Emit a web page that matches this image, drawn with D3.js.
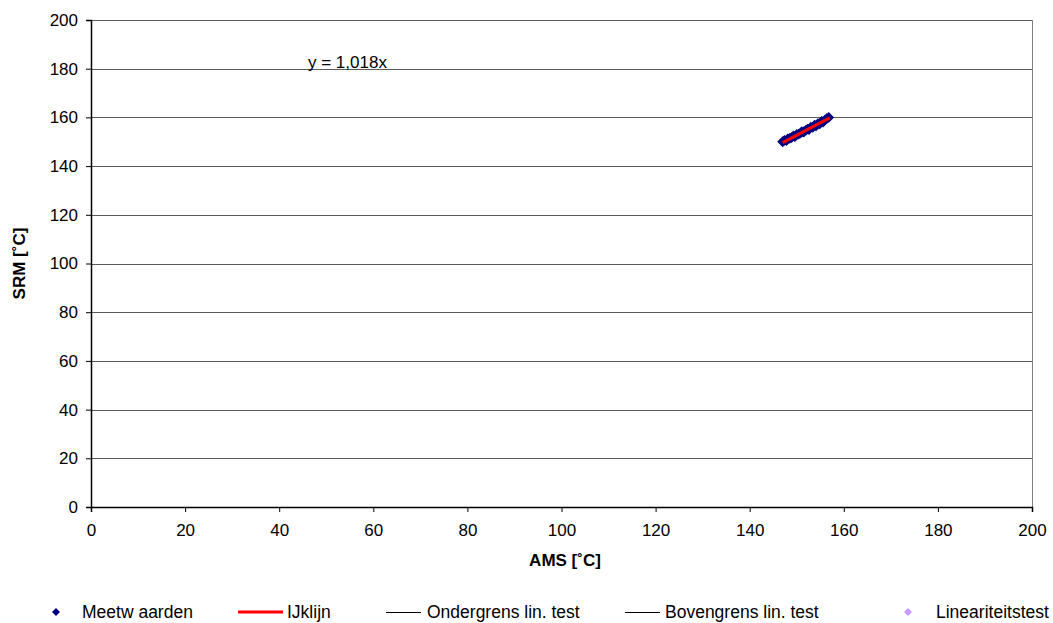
<!DOCTYPE html>
<html>
<head>
<meta charset="utf-8">
<script src="https://cdn.jsdelivr.net/npm/d3@7"></script>
<style>
  body { margin: 0; background: #fff; }
  text { font-family: "Liberation Sans", Arial, sans-serif; }
</style>
</head>
<body>
<svg id="chart"></svg>
<script>
// measured values (AMS vs SRM)
const amsValues = [147.0, 147.4, 147.8, 148.1, 148.5, 148.9, 149.3, 149.6, 150.0, 150.4, 150.8, 151.1, 151.5, 151.9, 152.3, 152.6, 153.0, 153.4, 153.8, 154.1, 154.5, 154.9, 155.3, 155.6, 156.0, 156.4, 156.8];
const srmValues = [150.0, 150.6, 150.5, 151.2, 151.4, 151.7, 152.4, 152.1, 153.0, 153.1, 153.6, 154.1, 154.0, 154.7, 155.2, 155.0, 156.0, 155.9, 156.8, 156.5, 157.4, 157.3, 158.4, 158.1, 158.9, 159.6, 160.0];
const slope = 1.018;
const calRange = [147, 157];
const xTicks = [0, 20, 40, 60, 80, 100, 120, 140, 160, 180, 200];
const yTicks = [0, 20, 40, 60, 80, 100, 120, 140, 160, 180, 200];
const legendLabels = ["Meetw aarden", "IJklijn", "Ondergrens lin. test", "Bovengrens lin. test", "Lineariteitstest"];

const W = 1053, H = 623;
const margin = {top: 20, right: 21, bottom: 116, left: 91};
const width = W - margin.left - margin.right,
      height = H - margin.top - margin.bottom;
const fs = 17;

const svg = d3.select("#chart").attr("width", W).attr("height", H);
const g = svg.append("g").attr("transform", `translate(${margin.left},${margin.top})`);

const x = d3.scaleLinear().domain([0, 200]).range([0, width]);
const y = d3.scaleLinear().domain([0, 200]).range([height, 0]);

// gridlines
g.append("g")
  .selectAll("line")
  .data(yTicks.filter(d => d > 0))
  .join("line")
    .attr("x1", 0).attr("x2", width)
    .attr("y1", d => Math.round(y(d)) + 0.5).attr("y2", d => Math.round(y(d)) + 0.5)
    .attr("stroke", "#5a5a5a").attr("stroke-width", 1);

// right border
g.append("line")
  .attr("x1", width + 0.5).attr("x2", width + 0.5)
  .attr("y1", 0).attr("y2", height)
  .attr("stroke", "#808080");

// axes
const xAxis = g.append("g")
  .attr("transform", `translate(0,${height})`)
  .call(d3.axisBottom(x).tickValues(xTicks).tickSize(5).tickPadding(12));
const yAxis = g.append("g")
  .call(d3.axisLeft(y).tickValues(yTicks).tickSize(5).tickPadding(8));

[xAxis, yAxis].forEach(a => {
  a.attr("font-size", fs).attr("font-family", "Liberation Sans, Arial, sans-serif");
  a.select(".domain").attr("stroke", "#000").attr("stroke-width", 1.5);
  a.selectAll(".tick line").attr("stroke", "#000");
  a.selectAll(".tick text").attr("fill", "#000");
});

// axis titles
svg.append("text")
  .attr("x", 565).attr("y", 566)
  .attr("text-anchor", "middle")
  .attr("font-size", fs).attr("font-weight", "bold")
  .text("AMS [˚C]");

svg.append("text")
  .attr("transform", `translate(25,${margin.top + height / 2}) rotate(-90)`)
  .attr("text-anchor", "middle")
  .attr("font-size", fs).attr("font-weight", "bold")
  .text("SRM [˚C]");

// measured points
const diamond = d3.symbol().type(d3.symbolDiamond2).size(48);
g.append("g")
  .selectAll("path")
  .data(amsValues.map((v, i) => [v, srmValues[i]]))
  .join("path")
    .attr("d", diamond)
    .attr("transform", d => `translate(${x(d[0])},${y(d[1])})`)
    .attr("fill", "#000080")
    .attr("stroke", "#000080")
    .attr("stroke-width", 1.5);

// calibration line
g.append("line")
  .attr("x1", x(calRange[0])).attr("y1", y(calRange[0] * slope))
  .attr("x2", x(calRange[1])).attr("y2", y(calRange[1] * slope))
  .attr("stroke", "#ff0000").attr("stroke-width", 3);

// equation
svg.append("text")
  .attr("x", 308).attr("y", 68)
  .attr("font-size", fs)
  .text("y = " + d3.format(".3f")(slope).replace(".", ",") + "x");

// legend
const ly = 612;
const legend = svg.append("g").attr("font-size", 17.5);
const smallDiamond = d3.symbol().type(d3.symbolDiamond2).size(40);
legend.append("path").attr("d", smallDiamond)
  .attr("transform", `translate(56,${ly})`).attr("fill", "#000080");
legend.append("text").attr("x", 82).attr("y", ly + 6).text(legendLabels[0]);

legend.append("line").attr("x1", 238).attr("x2", 283).attr("y1", ly).attr("y2", ly)
  .attr("stroke", "#ff0000").attr("stroke-width", 3);
legend.append("text").attr("x", 287).attr("y", ly + 6).text(legendLabels[1]);

legend.append("line").attr("x1", 386).attr("x2", 421).attr("y1", ly + 0.5).attr("y2", ly + 0.5)
  .attr("stroke", "#000").attr("stroke-width", 1);
legend.append("text").attr("x", 427).attr("y", ly + 6).text(legendLabels[2]);

legend.append("line").attr("x1", 625).attr("x2", 660).attr("y1", ly + 0.5).attr("y2", ly + 0.5)
  .attr("stroke", "#000").attr("stroke-width", 1);
legend.append("text").attr("x", 665).attr("y", ly + 6).text(legendLabels[3]);

legend.append("path").attr("d", smallDiamond)
  .attr("transform", `translate(908,${ly})`).attr("fill", "#cc99ff");
legend.append("text").attr("x", 936).attr("y", ly + 6).text(legendLabels[4]);
</script>
</body>
</html>
